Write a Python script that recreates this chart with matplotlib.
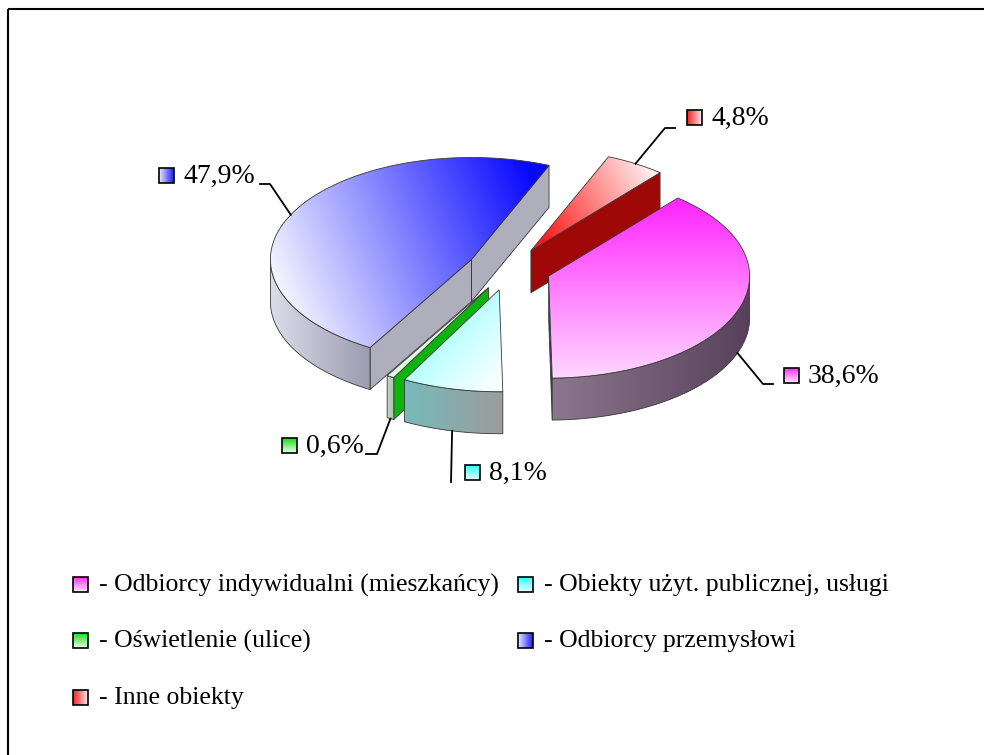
import numpy as np
import matplotlib
matplotlib.use('Agg')
import matplotlib.pyplot as plt
from matplotlib.patches import Polygon, Rectangle
from matplotlib.colors import to_rgb

plt.rcParams['font.family'] = ['Liberation Serif', 'DejaVu Serif']

# shares of the consumer groups, in percent
categories = ['Odbiorcy indywidualni (mieszkańcy)', 'Obiekty użyt. publicznej, usługi',
              'Oświetlenie (ulice)', 'Odbiorcy przemysłowi', 'Inne obiekty']
shares = [38.6, 8.1, 0.6, 47.9, 4.8]

# top face gradient (start, end) and side colours for each slice
top_cols = [('#ff22ff', '#ffd8ff'), ('#8cffff', '#f6ffff'), ('#d8ffd8', '#f0fff0'),
            ('#f6f6ff', '#0808ff'), ('#ff1818', '#fff0f0')]
wall_cols = [('#8c788e', '#58405a'), ('#78baba', '#9c9c9c'), ('#c4d4c4', '#b0c0b0'),
             ('#dcdcea', '#9c9cb0'), ('#a00808', '#a00808')]
face_cols = ['#7a1a7a', '#70a8a8', '#0cb40c', '#aeaebc', '#a00808']
key_cols = [('#ff30ff', '#ffe6ff', 'v'), ('#30ffff', '#e6ffff', 'v'), ('#18e018', '#e6ffe6', 'v'),
            ('#e6e6ff', '#2020ff', 'h'), ('#ff2020', '#ffe6e6', 'h')]

CX, CY = 509, 269
RX, RY = 201, 102
DEPTH = 42
EXPLODE = 42
START = 50.0

fig = plt.figure(figsize=(9.84, 7.55), dpi=100)
ax = fig.add_axes([0, 0, 1, 1])
ax.axis('off')


def grad_fill(verts, c0, c1, p0, p1, z, ec='#383838', lw=0.6):
    verts = np.asarray(verts)
    lo, hi = verts.min(0), verts.max(0)
    poly = Polygon(verts, closed=True, facecolor='none', edgecolor='none')
    ax.add_patch(poly)
    nx = max(int(hi[0] - lo[0]) + 2, 2)
    ny = max(int(hi[1] - lo[1]) + 2, 2)
    X, Y = np.meshgrid(np.linspace(0, 1, nx), np.linspace(0, 1, ny))
    d = np.array(p1, float) - np.array(p0, float)
    t = ((X - p0[0]) * d[0] + (Y - p0[1]) * d[1]) / (d @ d)
    t = np.clip(t, 0, 1)[..., None]
    rgb = (1 - t) * np.array(to_rgb(c0)) + t * np.array(to_rgb(c1))
    im = ax.imshow(rgb, extent=(lo[0], hi[0], hi[1], lo[1]), origin='upper',
                   aspect='auto', interpolation='bilinear', zorder=z)
    im.set_clip_path(poly)
    ax.add_patch(Polygon(verts, closed=True, facecolor='none', edgecolor=ec,
                         lw=lw, zorder=z + 0.01))


def rim(v, th, dz=0.0):
    return np.column_stack([v[0] + RX * np.cos(th), v[1] - RY * np.sin(th) + dz])


# slice angles, clockwise from START
bounds = START - np.concatenate([[0], np.cumsum(shares)]) * 3.6
slices = []
for i in range(len(shares)):
    a1, a2 = np.radians(bounds[i]), np.radians(bounds[i + 1])
    mid = (a1 + a2) / 2
    v = np.array([CX + EXPLODE * np.cos(mid), CY - EXPLODE * RY / RX * np.sin(mid)])
    slices.append((i, a1, a2, mid, v))

anchors = {}
for i, a1, a2, mid, v in sorted(slices, key=lambda s: -np.sin(s[3])):
    z = 10 + 10 * (-np.sin(mid))
    # radial side faces
    for a, vis in ((a1, np.cos(a1) < 0), (a2, np.cos(a2) > 0)):
        if vis:
            r = rim(v, np.array([a]))[0]
            quad = [v, r, r + [0, DEPTH], v + [0, DEPTH]]
            grad_fill(quad, face_cols[i], face_cols[i], (0, 0), (1, 0), z)
    # outer wall, front-facing part only
    k0 = int(np.floor((a2 - np.pi) / (2 * np.pi))) - 1
    for k in range(k0, k0 + 4):
        lo_a = max(a2, np.pi + 2 * np.pi * k)
        hi_a = min(a1, 2 * np.pi + 2 * np.pi * k)
        if hi_a > lo_a:
            th = np.linspace(lo_a, hi_a, 80)
            wall = np.vstack([rim(v, th), rim(v, th[::-1], DEPTH)])
            grad_fill(wall, wall_cols[i][0], wall_cols[i][1], (0, 0), (1, 0), z + 0.1)
    # top face
    th = np.linspace(a1, a2, 160)
    top = np.vstack([[v], rim(v, th)])
    dirs = [((0.5, 0), (0.5, 1)), ((0.2, 0), (1, 0.8)), ((0, 0), (1, 0)),
            ((0, 0.6), (1, 0.3)), ((0, 0.7), (1, 0.3))]
    grad_fill(top, top_cols[i][0], top_cols[i][1], dirs[i][0], dirs[i][1], z + 0.2)
    anchors[i] = (v, mid)


def key_square(x, y, i, s=15):
    c0, c1, o = key_cols[i]
    p1 = (0, 1) if o == 'v' else (1, 0)
    sq = [(x, y), (x + s, y), (x + s, y + s), (x, y + s)]
    grad_fill(sq, c0, c1, (0, 0), p1, 60, ec='black', lw=1.2)


def pct(val):
    return f'{val:.1f}'.replace('.', ',') + '%'


# data labels: key square position and leader line
# (slice index, square x, square y, anchor angle, on wall bottom, elbow, line end)
label_pos = [
    (0, 784, 368, -20, True, (763, 384), (773, 384)),
    (1, 465, 465, None, True, (451, 482), (451, 482)),
    (2, 282, 438, None, True, (377, 454), (366, 454)),
    (3, 159, 168, 154, False, (270, 184), (260, 184)),
    (4, 687, 110, None, False, (665, 128), (675, 128)),
]
for i, sx, sy, ang, bottom, elbow, end in label_pos:
    v, mid = anchors[i]
    th = mid if ang is None else np.radians(ang)
    p = rim(v, np.array([th]), DEPTH if bottom else 0)[0]
    ax.plot([p[0], elbow[0], end[0]], [p[1], elbow[1], end[1]], color='black', lw=1.3, zorder=50)
    key_square(sx, sy, i)
    ax.text(sx + 24, sy + 8, pct(shares[i]), fontsize=20, va='center', ha='left', zorder=60)

# legend, two columns
leg_x = [73, 518]
leg_y = [577, 633, 690]
for i, name in enumerate(categories):
    x, y = leg_x[i % 2], leg_y[i // 2]
    key_square(x, y, i)
    ax.text(x + 26, y + 8, '- ' + name, fontsize=18.5, va='center', ha='left', zorder=60)

# chart area frame
ax.add_patch(Rectangle((8, 9), 1000, 800, fill=False, edgecolor='black', lw=1.5, zorder=70))

ax.set_xlim(0, 984)
ax.set_ylim(755, 0)
fig.savefig('out.png', dpi=100)
